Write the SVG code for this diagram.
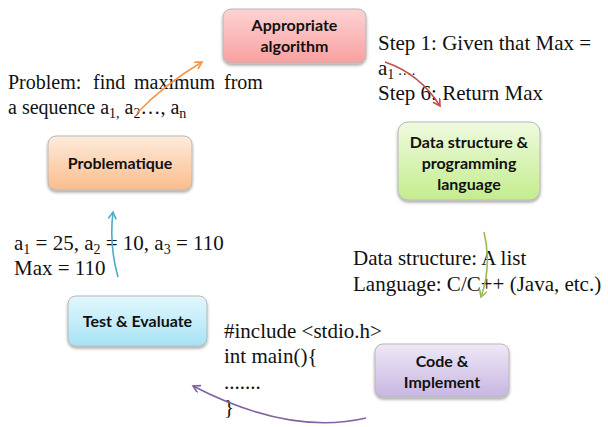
<svg xmlns="http://www.w3.org/2000/svg" width="608" height="427" viewBox="0 0 608 427">
  <style>
    .box { stroke: #b8b8b8; stroke-width: 1; }
    .lbl { font-family: Lato, "Open Sans", sans-serif; font-weight: bold; font-size: 16px; fill: #111; text-anchor: middle; }
    .txt { font-family: "Liberation Serif", "Times New Roman", serif; font-size: 21px; fill: #111; }
    .txt20 { font-size: 20px; }
    .sub { font-size: 14px; }
    .conn { fill: none; stroke-width: 1.6; }
  </style>
  <defs>
    <filter id="shadow" x="-10%" y="-10%" width="120%" height="130%">
      <feDropShadow dx="0" dy="2" stdDeviation="1.5" flood-color="#000" flood-opacity="0.35"/>
    </filter>
    <linearGradient id="gRed" x1="0" y1="0" x2="0" y2="1">
      <stop offset="0" stop-color="#fdd3d3"/>
      <stop offset="1" stop-color="#f9a0a0"/>
    </linearGradient>
    <linearGradient id="gOrange" x1="0" y1="0" x2="0" y2="1">
      <stop offset="0" stop-color="#fdebdc"/>
      <stop offset="1" stop-color="#fbbd8c"/>
    </linearGradient>
    <linearGradient id="gGreen" x1="0" y1="0" x2="0" y2="1">
      <stop offset="0" stop-color="#effadf"/>
      <stop offset="1" stop-color="#c4ed8d"/>
    </linearGradient>
    <linearGradient id="gCyan" x1="0" y1="0" x2="0" y2="1">
      <stop offset="0" stop-color="#e3f7fd"/>
      <stop offset="1" stop-color="#a7e3f5"/>
    </linearGradient>
    <linearGradient id="gPurple" x1="0" y1="0" x2="0" y2="1">
      <stop offset="0" stop-color="#eee8f6"/>
      <stop offset="1" stop-color="#c8b6e2"/>
    </linearGradient>
    <marker id="arrOrange" markerWidth="10" markerHeight="10" refX="8" refY="4" orient="auto" markerUnits="userSpaceOnUse">
      <path d="M1,0 L8,4 L1,8" fill="none" stroke="#f79646" stroke-width="1.6"/>
    </marker>
    <marker id="arrRed" markerWidth="10" markerHeight="10" refX="8" refY="4" orient="auto" markerUnits="userSpaceOnUse">
      <path d="M1,0 L8,4 L1,8" fill="none" stroke="#c0504d" stroke-width="1.6"/>
    </marker>
    <marker id="arrGreen" markerWidth="10" markerHeight="10" refX="8" refY="4" orient="auto" markerUnits="userSpaceOnUse">
      <path d="M1,0 L8,4 L1,8" fill="none" stroke="#9bbb59" stroke-width="1.6"/>
    </marker>
    <marker id="arrCyan" markerWidth="10" markerHeight="10" refX="8" refY="4" orient="auto" markerUnits="userSpaceOnUse">
      <path d="M1,0 L8,4 L1,8" fill="none" stroke="#4bacc6" stroke-width="1.6"/>
    </marker>
    <marker id="arrPurple" markerWidth="10" markerHeight="10" refX="8" refY="4" orient="auto" markerUnits="userSpaceOnUse">
      <path d="M1,0 L8,4 L1,8" fill="none" stroke="#8064a2" stroke-width="1.6"/>
    </marker>
  </defs>

  <rect width="608" height="427" fill="#ffffff"/>

  <!-- Nodes -->
  <g id="algorithm">
    <rect class="box" x="223" y="9" width="143" height="54" rx="8" fill="url(#gRed)" filter="url(#shadow)"/>
    <text class="lbl" x="294.5" y="31">Appropriate</text>
    <text class="lbl" x="294.5" y="52">algorithm</text>
  </g>
  <g id="datastructure">
    <rect class="box" x="398" y="122" width="142" height="78" rx="10" fill="url(#gGreen)" filter="url(#shadow)"/>
    <text class="lbl" x="469" y="148">Data structure &amp;</text>
    <text class="lbl" x="469" y="169">programming</text>
    <text class="lbl" x="469" y="190">language</text>
  </g>
  <g id="code">
    <rect class="box" x="375" y="344" width="134" height="53" rx="8" fill="url(#gPurple)" filter="url(#shadow)"/>
    <text class="lbl" x="442" y="367">Code &amp;</text>
    <text class="lbl" x="442" y="388">Implement</text>
  </g>
  <g id="test">
    <rect class="box" x="68" y="296" width="139" height="50" rx="8" fill="url(#gCyan)" filter="url(#shadow)"/>
    <text class="lbl" x="137.5" y="327">Test &amp; Evaluate</text>
  </g>
  <g id="problematique">
    <rect class="box" x="48" y="136" width="144" height="54" rx="8" fill="url(#gOrange)" filter="url(#shadow)"/>
    <text class="lbl" x="120" y="169">Problematique</text>
  </g>

  <!-- Annotations -->
  <g id="notes">
    <text class="txt txt20" y="89"><tspan x="8">Problem:</tspan><tspan x="93">find</tspan><tspan x="134">maximum</tspan><tspan x="224">from</tspan></text>
    <text class="txt txt20" x="8" y="114">a sequence  a<tspan class="sub" dy="4">1,</tspan><tspan dy="-4"> a</tspan><tspan class="sub" dy="4">2</tspan><tspan dy="-4">…, a</tspan><tspan class="sub" dy="4">n</tspan></text>

    <text class="txt" x="378" y="50">Step 1: Given that Max =</text>
    <text class="txt" x="378" y="75">a<tspan class="sub" dy="4">1</tspan><tspan dy="-4" font-size="14"> ….</tspan></text>
    <text class="txt" x="378" y="100">Step 6: Return Max</text>

    <text class="txt" x="353" y="265">Data structure:  A list</text>
    <text class="txt" x="353" y="291">Language:  C/C++ (Java, etc.)</text>

    <text class="txt" x="224" y="338">#include &lt;stdio.h&gt;</text>
    <text class="txt" x="224" y="363">int main(){</text>
    <text class="txt" x="224" y="389">.......</text>
    <text class="txt" x="224" y="414">}</text>

    <text class="txt" x="14" y="250">a<tspan class="sub" dy="4">1</tspan><tspan dy="-4"> = 25, a</tspan><tspan class="sub" dy="4">2</tspan><tspan dy="-4"> = 10, a</tspan><tspan class="sub" dy="4">3</tspan><tspan dy="-4"> = 110</tspan></text>
    <text class="txt" x="14" y="275">Max = 110</text>
  </g>

  <!-- Connectors -->
  <g id="connectors">
    <path class="conn" stroke="#f79646" d="M137,113 Q165,84 202,62" marker-end="url(#arrOrange)"/>
    <path class="conn" stroke="#c0504d" d="M385,62 Q420,74 440,106" marker-end="url(#arrRed)"/>
    <path class="conn" stroke="#9bbb59" d="M484,232 Q492,266 481,297" marker-end="url(#arrGreen)"/>
    <path class="conn" stroke="#4bacc6" d="M118,277 Q109,245 113,212" marker-end="url(#arrCyan)"/>
    <path class="conn" stroke="#8064a2" d="M366,418 Q290,436 193,386" marker-end="url(#arrPurple)"/>
  </g>
</svg>
